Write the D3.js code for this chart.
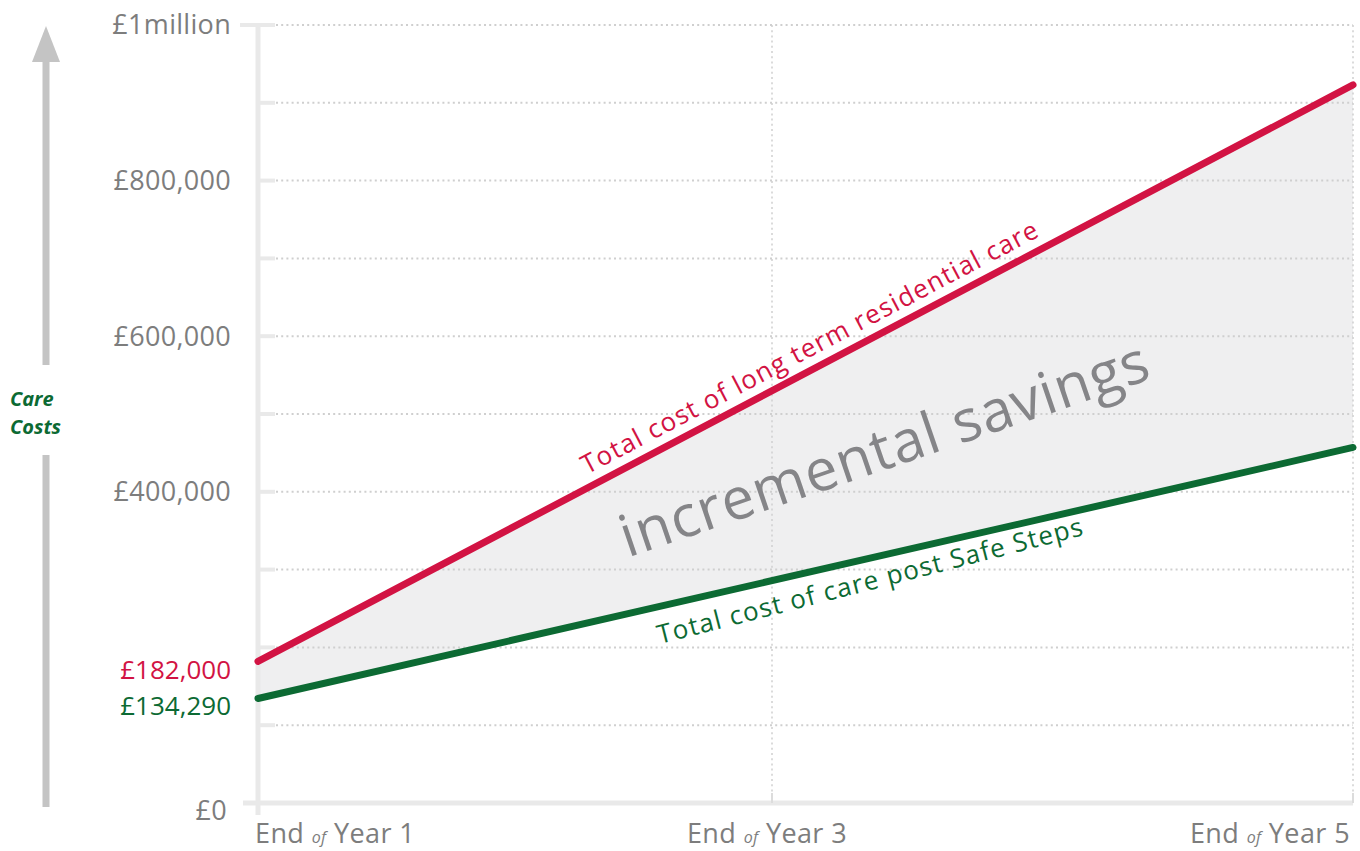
<!DOCTYPE html>
<html>
<head>
<meta charset="utf-8">
<script src="https://cdn.jsdelivr.net/npm/d3@7"></script>
<style>
  html, body { margin: 0; padding: 0; background: #fff; }
  svg { display: block; }
  text { font-family: "Open Sans", "Lato", sans-serif; }
</style>
</head>
<body>
<svg id="chart" width="1360" height="851"></svg>
<script>
// ---- data ----
const years = [1, 5];
const residentialCare = [182000, 923000];
const postSafeSteps = [134290, 457000];
const yGridValues = [0, 100000, 200000, 300000, 400000, 500000, 600000, 700000, 800000, 900000, 1000000];
const yLabelValues = [0, 400000, 600000, 800000, 1000000];
const yLabelTexts = ["£0", "£400,000", "£600,000", "£800,000", "£1million"];
const xTickValues = [1, 3, 5];
const xTickLabels = ["Year 1", "Year 3", "Year 5"];
const startLabels = ["£182,000", "£134,290"];
const redLabel = "Total cost of long term residential care";
const greenLabel = "Total cost of care post Safe Steps";
const areaLabel = "incremental savings";
const axisTitle = ["Care", "Costs"];

// ---- styling ----
const RED = "#d21343";
const GREEN = "#0c6a33";
const GREY_TEXT = "#7d7d7d";
const AXIS = "#e9e9e9";
const GRID = "#cfcfcf";

const svg = d3.select("#chart");
const x = d3.scaleLinear().domain([1, 3, 5]).range([258, 772, 1353]);
const y = d3.scaleLinear().domain([0, 1000000]).range([803, 25]);

const red = years.map((yr, i) => ({ yr, v: residentialCare[i] }));
const green = years.map((yr, i) => ({ yr, v: postSafeSteps[i] }));

// area between lines
const band = years.map((yr, i) => ({ yr, hi: residentialCare[i], lo: postSafeSteps[i] }));
svg.append("path")
  .datum(band)
  .attr("fill", "#efeff0")
  .attr("d", d3.area().x(d => x(d.yr)).y0(d => y(d.lo)).y1(d => y(d.hi)));

// horizontal dotted gridlines
svg.append("g").selectAll("line").data(yGridValues.filter(v => v > 0)).join("line")
  .attr("x1", 276).attr("x2", x(5))
  .attr("y1", d => y(d)).attr("y2", d => y(d))
  .attr("stroke", GRID).attr("stroke-width", 2).attr("stroke-dasharray", "2,3.2");

// vertical dotted gridlines
svg.append("g").selectAll("line").data(xTickValues.filter(v => v > 1)).join("line")
  .attr("x1", d => x(d)).attr("x2", d => x(d))
  .attr("y1", y(1000000)).attr("y2", y(0))
  .attr("stroke", GRID).attr("stroke-width", 1.5).attr("stroke-dasharray", "2,3.2");

// y axis line
svg.append("line")
  .attr("x1", x(1)).attr("x2", x(1)).attr("y1", y(1000000)).attr("y2", y(0) + 12)
  .attr("stroke", AXIS).attr("stroke-width", 5);
// x axis line
svg.append("line")
  .attr("x1", x(1) - 15).attr("x2", x(5)).attr("y1", y(0)).attr("y2", y(0))
  .attr("stroke", AXIS).attr("stroke-width", 5);

// y tick marks
svg.append("g").selectAll("line").data(yGridValues.filter(v => v > 0)).join("line")
  .attr("x1", d => d === 1000000 ? x(1) - 18 : x(1)).attr("x2", x(1) + 17)
  .attr("y1", d => y(d)).attr("y2", d => y(d))
  .attr("stroke", AXIS).attr("stroke-width", 4);

// x tick marks
svg.append("g").selectAll("line").data(xTickValues.filter(v => v > 1)).join("line")
  .attr("x1", d => x(d)).attr("x2", d => x(d))
  .attr("y1", y(0) - 10).attr("y2", y(0))
  .attr("stroke", "#dcdcdc").attr("stroke-width", 2);

// y labels
svg.append("g").selectAll("text").data(yLabelValues).join("text")
  .attr("x", d => d === 0 ? 227 : 231)
  .attr("y", d => y(d) + (d === 0 ? 8 : 0))
  .attr("dy", "0.35em")
  .attr("text-anchor", "end")
  .attr("fill", GREY_TEXT)
  .attr("font-size", 27)
  .attr("letter-spacing", 0.3)
  .text((d, i) => yLabelTexts[i]);

// start-value labels
svg.append("text").attr("x", 231).attr("y", y(residentialCare[0]) + 8).attr("dy", "0.35em")
  .attr("text-anchor", "end").attr("fill", RED).attr("font-size", 26).text(startLabels[0]);
svg.append("text").attr("x", 231).attr("y", y(postSafeSteps[0]) + 7).attr("dy", "0.35em")
  .attr("text-anchor", "end").attr("fill", GREEN).attr("font-size", 26).text(startLabels[1]);

// x labels
const anchors = ["start", "middle", "end"];
const xl = svg.append("g").selectAll("text").data(xTickValues).join("text")
  .attr("x", (d, i) => x(d) + (i === 0 ? -3 : i === 1 ? -5 : -3))
  .attr("y", 843)
  .attr("text-anchor", (d, i) => anchors[i])
  .attr("fill", GREY_TEXT)
  .attr("font-size", 27)
  .attr("letter-spacing", 0.4);
xl.append("tspan").text("End ");
xl.append("tspan").attr("font-style", "italic").attr("font-size", 16).text("of");
xl.append("tspan").text((d, i) => " " + xTickLabels[i]);

// lines
const lineGen = d3.line().x(d => x(d.yr)).y(d => y(d.v));
svg.append("path").datum(red).attr("d", lineGen)
  .attr("fill", "none").attr("stroke", RED).attr("stroke-width", 7).attr("stroke-linecap", "round");
svg.append("path").datum(green).attr("d", lineGen)
  .attr("fill", "none").attr("stroke", GREEN).attr("stroke-width", 7).attr("stroke-linecap", "round");

// rotated labels
function along(series, t, offset) {
  const x0 = x(series[0].yr), y0 = y(series[0].v);
  const x1 = x(series[1].yr), y1 = y(series[1].v);
  const ang = Math.atan2(y1 - y0, x1 - x0);
  const px = x0 + (x1 - x0) * t, py = y0 + (y1 - y0) * t;
  const nx = -Math.sin(ang), ny = Math.cos(ang);
  return { px: px + nx * offset, py: py + ny * offset, deg: ang * 180 / Math.PI };
}
const rl = along(red, 0.513, -12);
svg.append("text")
  .attr("transform", `translate(${rl.px},${rl.py}) rotate(${rl.deg})`)
  .attr("text-anchor", "middle").attr("fill", RED).attr("font-size", 26)
  .attr("letter-spacing", 1.2)
  .text(redLabel);

const gl = along(green, 0.555, 31);
svg.append("text")
  .attr("transform", `translate(${gl.px},${gl.py}) rotate(${gl.deg - 1.5})`)
  .attr("text-anchor", "middle").attr("fill", GREEN).attr("font-size", 26)
  .attr("letter-spacing", 1.2)
  .text(greenLabel);

// incremental savings
const ra = along(red, 0.578, 0), ga = along(green, 0.578, 0);
const midDeg = (ra.deg + ga.deg) / 2 + 1.5;
svg.append("text")
  .attr("transform", `translate(${(ra.px + ga.px) / 2},${(ra.py + ga.py) / 2 + 27}) rotate(${midDeg})`)
  .attr("text-anchor", "middle").attr("fill", "#858588").attr("font-size", 58)
  .attr("letter-spacing", 1)
  .text(areaLabel);

// Care Costs arrow
const arrow = svg.append("g");
arrow.append("line").attr("x1", 46).attr("x2", 46).attr("y1", y(0) + 4).attr("y2", 455)
  .attr("stroke", "#c4c4c4").attr("stroke-width", 7);
arrow.append("line").attr("x1", 46).attr("x2", 46).attr("y1", 365).attr("y2", 58)
  .attr("stroke", "#c4c4c4").attr("stroke-width", 7);
arrow.append("path").attr("d", "M46,26 L32,62 L60,62 Z").attr("fill", "#c4c4c4");

svg.append("g").selectAll("text").data(axisTitle).join("text")
  .attr("x", 10).attr("y", (d, i) => 406 + i * 28)
  .attr("fill", GREEN).attr("font-size", 20).attr("font-weight", "bold").attr("font-style", "italic")
  .text(d => d);
</script>
</body>
</html>
